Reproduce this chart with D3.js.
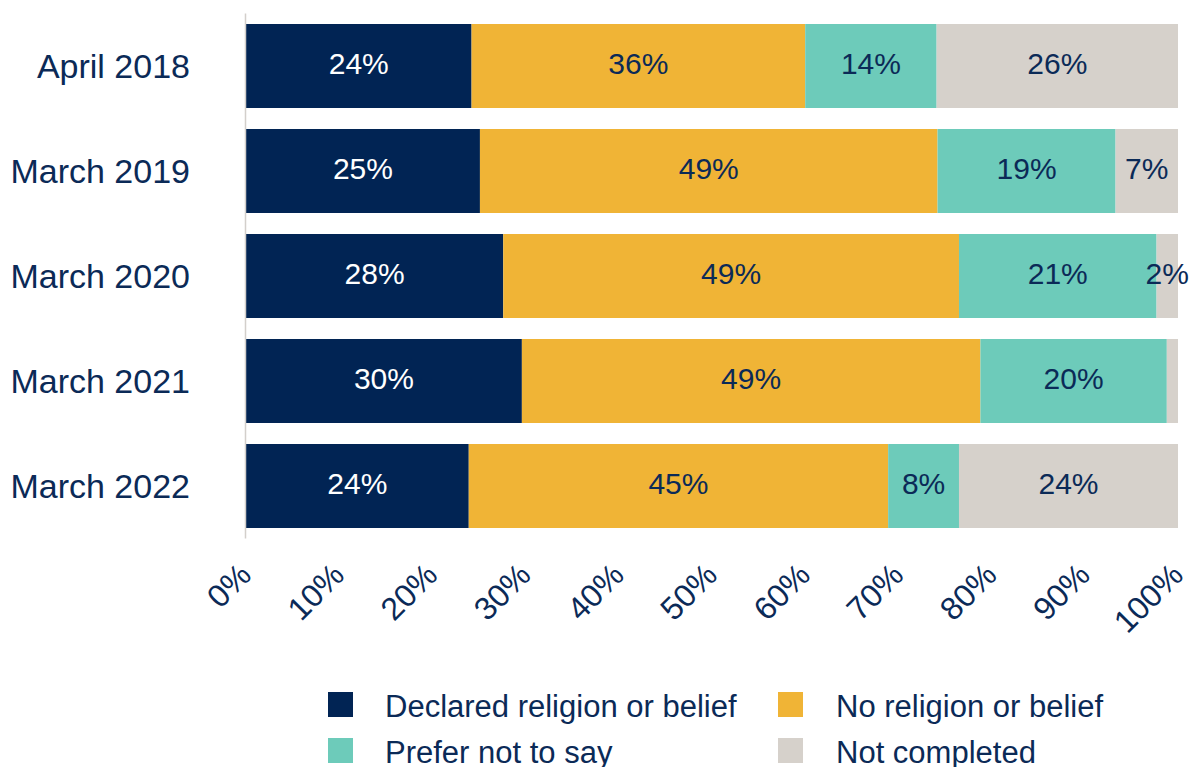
<!DOCTYPE html>
<html>
<head>
<meta charset="utf-8">
<script src="https://cdn.jsdelivr.net/npm/d3@7/dist/d3.min.js"></script>
<style>
  html, body { margin: 0; padding: 0; background: #ffffff; }
  svg { display: block; font-family: "Liberation Sans", Arial, sans-serif; }
</style>
</head>
<body>
<svg id="chart" width="1201" height="767"></svg>
<script>
const categories = ["April 2018", "March 2019", "March 2020", "March 2021", "March 2022"];
const seriesNames = ["Declared religion or belief", "No religion or belief", "Prefer not to say", "Not completed"];
const declared     = [24.2, 25.1, 27.6, 29.6, 23.9];
const noReligion   = [35.8, 49.1, 48.9, 49.2, 45.0];
const preferNot    = [14.1, 19.1, 21.2, 20.0, 7.6];
const notCompleted = [25.9, 6.7, 2.3, 1.2, 23.5];
const tickValues = [0, 10, 20, 30, 40, 50, 60, 70, 80, 90, 100];
const colors = ["#012454", "#F0B436", "#6DCBBA", "#D6D1CB"];
const labelColors = ["#ffffff", "#0B2A57", "#0B2A57", "#0B2A57"];
const textColor = "#0B2A57";

const seriesValues = [declared, noReligion, preferNot, notCompleted];
const rows = categories.map((c, i) => {
  const r = { category: c };
  seriesNames.forEach((s, j) => r[s] = seriesValues[j][i]);
  return r;
});
const stacked = d3.stack().keys(seriesNames)(rows);

const svg = d3.select("#chart");
const x = d3.scaleLinear().domain([0, 100]).range([246, 1178]);
const y = d3.scaleBand().domain(categories).range([13.5, 538.5]).paddingInner(0.2).paddingOuter(0.1);

// bars
const layers = svg.append("g").selectAll("g").data(stacked).join("g")
  .attr("fill", (d, i) => colors[i]);
layers.selectAll("rect").data(d => d).join("rect")
  .attr("x", d => x(d[0]))
  .attr("y", d => y(d.data.category))
  .attr("width", d => x(d[1]) - x(d[0]))
  .attr("height", y.bandwidth());

// data labels
stacked.forEach((layer, i) => {
  svg.append("g").selectAll("text").data(layer.filter(d => (d[1] - d[0]) >= 1.5)).join("text")
    .attr("x", d => (x(d[0]) + x(d[1])) / 2)
    .attr("y", d => y(d.data.category) + y.bandwidth() / 2 - 3)
    .attr("dy", "0.35em")
    .attr("text-anchor", "middle")
    .attr("font-size", 30)
    .attr("fill", labelColors[i])
    .text(d => Math.round(d[1] - d[0]) + "%");
});

// y axis line
svg.append("line")
  .attr("x1", x(0) - 0.5).attr("x2", x(0) - 0.5)
  .attr("y1", y.range()[0]).attr("y2", y.range()[1])
  .attr("stroke", "#D3CFCB").attr("stroke-width", 1.5);

// category labels
svg.append("g").selectAll("text").data(categories).join("text")
  .attr("x", 190)
  .attr("y", d => y(d) + y.bandwidth() / 2)
  .attr("dy", "0.35em")
  .attr("text-anchor", "end")
  .attr("font-size", 34)
  .attr("fill", textColor)
  .text(d => d);

// x tick labels rotated
svg.append("g").selectAll("text").data(tickValues).join("text")
  .attr("transform", d => `translate(${x(d) + 7},577) rotate(-45)`)
  .attr("text-anchor", "end")
  .attr("font-size", 32)
  .attr("fill", textColor)
  .text(d => d + "%");

// legend
const legendPos = [[328, 692], [778, 692], [328, 738], [778, 738]];
const lg = svg.append("g").selectAll("g").data(seriesNames).join("g")
  .attr("transform", (d, i) => `translate(${legendPos[i][0]},${legendPos[i][1]})`);
lg.append("rect").attr("width", 25).attr("height", 25).attr("fill", (d, i) => colors[i]);
lg.append("text").attr("x", (d, i) => i % 2 === 0 ? 57 : 58).attr("y", 25)
  .attr("font-size", 31).attr("fill", textColor).text(d => d);
</script>
</body>
</html>
